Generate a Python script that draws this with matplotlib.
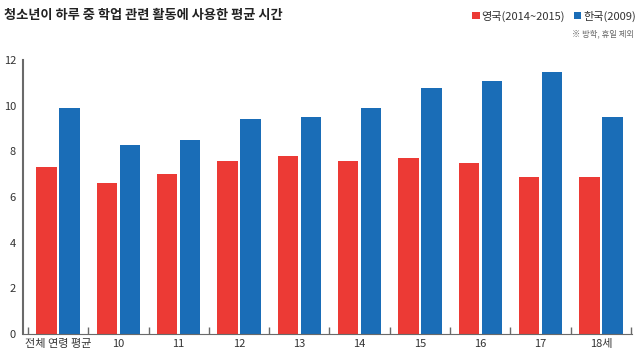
import matplotlib.pyplot as plt
import numpy as np

plt.rcParams['font.family'] = ['Noto Sans CJK KR', 'DejaVu Sans']

labels = ['전체 연령 평균', '10', '11', '12', '13', '14', '15', '16', '17', '18세']
uk = [7.3, 6.6, 7.0, 7.6, 7.8, 7.6, 7.7, 7.5, 6.9, 6.9]
kr = [9.9, 8.3, 8.5, 9.4, 9.5, 9.9, 10.8, 11.1, 11.5, 9.5]

red = '#ec3a35'
blue = '#1a6db7'
gray = '#6a6a6a'

fig = plt.figure(figsize=(6.4, 3.56), dpi=100)
ax = fig.add_axes([0.036, 0.062, 0.952, 0.769])

x = np.arange(len(labels))
w = 0.34
b1 = ax.bar(x - 0.19, uk, w, color=red, label='영국(2014~2015)')
b2 = ax.bar(x + 0.19, kr, w, color=blue, label='한국(2009)')

ax.set_xlim(-0.58, 9.52)
ax.set_ylim(0, 12)

ax.set_yticks(range(0, 13, 2))
ax.set_yticks([12], minor=True)
ax.tick_params(axis='y', which='major', length=0, pad=5, labelsize=8, labelcolor='#333333')
ax.tick_params(axis='y', which='minor', length=6, direction='in', color=gray, width=1.2)

ax.set_xticks(x)
ax.set_xticklabels(labels)
ax.set_xticks(np.arange(-0.5, 10, 1), minor=True)
ax.tick_params(axis='x', which='major', length=0, pad=4, labelsize=8, labelcolor='#333333')
ax.tick_params(axis='x', which='minor', length=5, direction='in', color=gray, width=1)

for s in ['top', 'right']:
    ax.spines[s].set_visible(False)
for s in ['left', 'bottom']:
    ax.spines[s].set_color(gray)
ax.spines['left'].set_linewidth(1.5)
ax.spines['bottom'].set_linewidth(0.8)

fig.text(0.006, 0.958, '청소년이 하루 중 학업 관련 활동에 사용한 평균 시간',
         fontsize=9.5, fontweight='bold', color='#222222', va='center')

fig.legend(handles=[b1, b2], loc='center right', bbox_to_anchor=(0.997, 0.955),
           ncol=2, frameon=False, fontsize=8, handlelength=0.7, handleheight=0.7,
           handletextpad=0.15, columnspacing=0.8, borderaxespad=0, borderpad=0.2,
           labelcolor='#333333')

fig.text(0.99, 0.905, '※ 방학, 휴일 제외', fontsize=6, color='#666666',
         ha='right', va='center')

fig.savefig('out.png', dpi=100)
